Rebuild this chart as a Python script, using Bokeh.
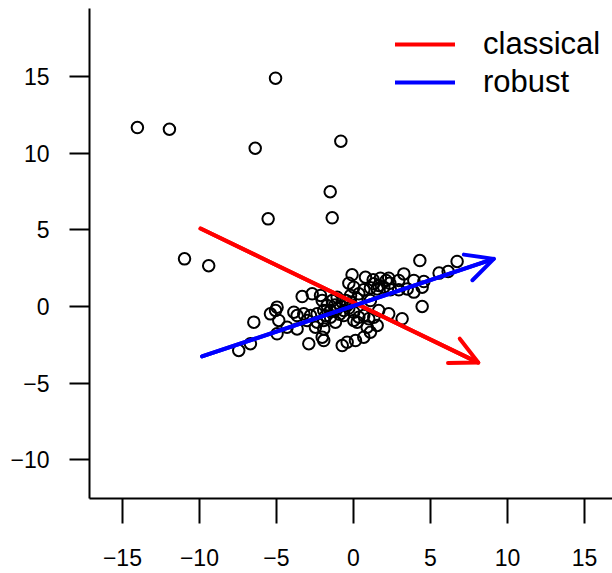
from bokeh.plotting import figure
from bokeh.models import Range1d, FixedTicker, Arrow, OpenHead, Legend, LegendItem
from bokeh.embed import file_html
from bokeh.resources import INLINE

# --- data -------------------------------------------------------------
outlier_x = [-14.03, -11.95, -5.06, -6.38, -0.82, -1.51, -5.54, -1.38, -10.97, -9.40]
outlier_y = [11.68, 11.57, 14.90, 10.33, 10.79, 7.49, 5.72, 5.79, 3.11, 2.66]

cluster_x = [4.31, 6.73, 6.15, 5.56, 3.27, -0.09, 0.78, -0.30, 1.28, 1.75,
             2.12, 2.36, 2.94, 4.57, 3.92, 0.67, 1.10, 1.54, 1.97, 2.40,
             2.94, 3.49, 3.92, 4.46, 0.02, 0.35, 1.32, 1.64, 2.29, 4.46,
             -3.33, -2.68, -2.14, -2.03, -1.38, -1.06, -0.73, -0.19, 0.24, -0.41,
             -1.06, -1.49, -1.93, -2.36, -2.79, -3.23, -3.66, -3.87, -3.01, -2.36,
             -1.93, -1.49, -1.17, -0.63, 0.02, 0.35, 0.67, 0.99, 1.32, 1.64,
             2.29, 3.16, -4.96, -5.06, -5.39, -4.85, -6.47, -4.31, -3.66, -4.96,
             -2.47, -1.93, -2.03, -1.93, -2.90, -6.69, -7.45, -0.73, -0.41, 0.13,
             0.67, 1.10, 1.54, 0.02, 0.24, 0.89, -0.19, -1.71, -0.63, 1.10,
             -1.50, -1.20, -0.90, -0.50, -1.80, -0.30]
cluster_y = [3.00, 2.94, 2.28, 2.18, 2.13, 2.07, 1.91, 1.52, 1.74, 1.85,
             1.70, 1.52, 1.70, 1.63, 1.70, 1.09, 1.22, 1.15, 1.26, 1.09,
             1.09, 1.15, 0.94, 1.26, 1.26, 0.83, 1.48, 1.37, 1.85, 0.00,
             0.65, 0.83, 0.72, 0.39, 0.39, 0.61, 0.28, 0.72, 0.50, 0.07,
             -0.15, -0.26, -0.26, -0.48, -0.59, -0.48, -0.59, -0.37, -0.91, -1.02,
             -0.91, -0.70, -1.02, -0.59, -0.37, -0.70, -0.59, -0.80, -0.70, -0.26,
             -0.48, -0.80, -0.04, -0.26, -0.48, -0.91, -1.02, -1.35, -1.46, -1.78,
             -1.35, -1.46, -2.00, -2.22, -2.43, -2.43, -2.87, -2.55, -2.33, -2.22,
             -2.00, -1.68, -1.24, -0.91, -1.02, -1.35, 0.28, 0.07, -0.26, 0.39,
             -0.30, 0.10, -0.50, 0.40, -0.60, -0.10]

classical_x = [-9.93, 8.10]
classical_y = [5.09, -3.66]
robust_x = [-9.83, 9.11]
robust_y = [-3.26, 3.11]

x_ticks = [-15, -10, -5, 0, 5, 10, 15]
x_tick_labels = ["\u221215", "\u221210", "\u22125", "0", "5", "10", "15"]
y_ticks = [-10, -5, 0, 5, 10, 15]
y_tick_labels = ["\u221210", "\u22125", "0", "5", "10", "15"]

series_labels = ["classical", "robust"]

# --- figure -----------------------------------------------------------
FONT = "Liberation Sans"
p = figure(width=612, height=573,
           x_range=Range1d(-17.14, 16.82), y_range=Range1d(-12.53, 19.45),
           output_backend="svg", toolbar_location=None,
           min_border_left=89, min_border_right=0,
           min_border_top=8, min_border_bottom=75)
p.xgrid.visible = False
p.ygrid.visible = False
p.outline_line_color = None
p.background_fill_color = "white"
p.border_fill_color = "white"

for ax, ticks, labels, standoff, tick_out in (
        (p.xaxis[0], x_ticks, x_tick_labels, 25, 25),
        (p.yaxis[0], y_ticks, y_tick_labels, 20, 20)):
    ax.ticker = FixedTicker(ticks=ticks)
    ax.major_label_overrides = {t: l for t, l in zip(ticks, labels)}
    ax.minor_tick_line_color = None
    ax.major_tick_in = 0
    ax.major_tick_out = tick_out
    ax.major_tick_line_width = 2
    ax.major_tick_line_color = "black"
    ax.axis_line_width = 2
    ax.axis_line_color = "black"
    ax.major_label_text_font = FONT
    ax.major_label_text_font_size = "23px"
    ax.major_label_text_color = "black"
    ax.major_label_standoff = standoff

# points
all_x = outlier_x + cluster_x
all_y = outlier_y + cluster_y
p.scatter(all_x, all_y, marker="circle", size=11.5, fill_color=None,
          line_color="black", line_width=2)

# arrows
r_c = p.line(classical_x, classical_y, line_color="#FF0000", line_width=4,
             line_cap="round")
r_r = p.line(robust_x, robust_y, line_color="#0000FF", line_width=4,
             line_cap="round")
for xs, ys, col in ((classical_x, classical_y, "#FF0000"),
                    (robust_x, robust_y, "#0000FF")):
    p.add_layout(Arrow(end=OpenHead(size=27, line_color=col, line_width=4,
                                    line_cap="round", line_join="round"),
                       x_start=xs[0], y_start=ys[0], x_end=xs[1], y_end=ys[1],
                       line_color=col, line_width=4, line_cap="round"))

legend = Legend(items=[LegendItem(label=series_labels[0], renderers=[r_c]),
                       LegendItem(label=series_labels[1], renderers=[r_r])],
                location=(306, 397), orientation="vertical",
                glyph_width=60, glyph_height=38, label_height=38,
                label_standoff=28, spacing=0, padding=0, margin=0,
                label_text_font=FONT, label_text_font_size="31px",
                label_text_color="black",
                border_line_alpha=0, background_fill_alpha=0)
p.add_layout(legend)

open("out.html", "w").write(file_html(p, INLINE))
